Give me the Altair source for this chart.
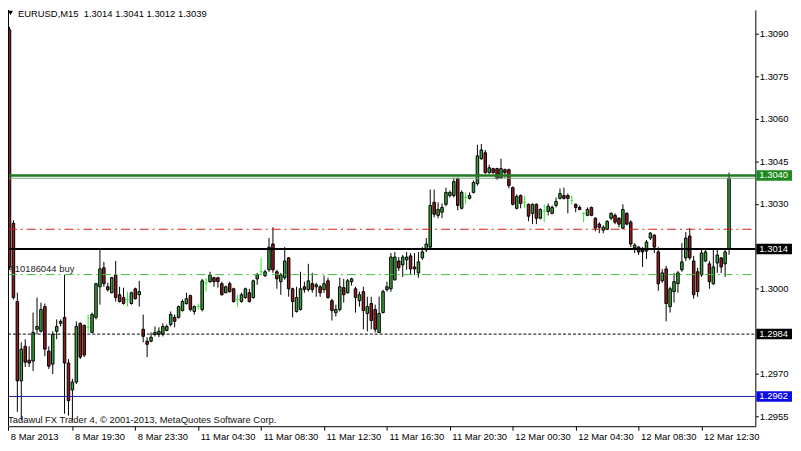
import json
import altair as alt
import pandas as pd

# ---------------- data ----------------
bar_open = [
    1.30914, 1.30231, 1.29955, 1.29675, 1.29797, 1.29748, 1.29745, 1.29857, 1.29850, 1.29937,
    1.29780, 1.29734, 1.29850, 1.29878, 1.29899, 1.29738, 1.29643, 1.29671, 1.29878, 1.29871,
    1.29864, 1.29846, 1.29899, 1.30007, 1.30074, 1.30007, 1.29986, 1.30049, 1.29979, 1.29969,
    1.29962, 1.29948, 1.30000, 1.29979, 1.29857, 1.29815, 1.29815, 1.29839, 1.29839, 1.29839,
    1.29853, 1.29874, 1.29899, 1.29899, 1.29923, 1.29948, 1.29976, 1.29920, 1.29937, 1.29927,
    1.30021, 1.30025, 1.30039, 1.30039, 1.30018, 1.29986, 1.30018, 1.30000, 1.29962, 1.29955,
    1.29969, 1.29986, 1.29969, 1.30035, 1.30060, 1.30046, 1.30067, 1.30158, 1.30060, 1.30025,
    1.30039, 1.30109, 1.30000, 1.29920, 1.29927, 1.30007, 1.29997, 1.30018, 1.30007, 1.30007,
    1.29997, 1.30028, 1.29958, 1.29916, 1.29927, 1.30004, 1.29986, 1.30025, 1.30000, 1.29958,
    1.29990, 1.29913, 1.29948, 1.29927, 1.29846, 1.29916, 1.29997, 1.30000, 1.30032, 1.30098,
    1.30084, 1.30102, 1.30116, 1.30077, 1.30056, 1.30109, 1.30137, 1.30147, 1.30305, 1.30259,
    1.30270, 1.30298, 1.30329, 1.30329, 1.30389, 1.30284, 1.30322, 1.30319, 1.30340, 1.30371,
    1.30459, 1.30480, 1.30410, 1.30424, 1.30424, 1.30392, 1.30420, 1.30420, 1.30357, 1.30284,
    1.30329, 1.30305, 1.30298, 1.30266, 1.30298, 1.30249, 1.30273, 1.30273, 1.30266, 1.30294,
    1.30319, 1.30329, 1.30329, 1.30312, 1.30298, 1.30287, 1.30266, 1.30259, 1.30287, 1.30249,
    1.30228, 1.30207, 1.30210, 1.30249, 1.30259, 1.30249, 1.30214, 1.30266, 1.30235, 1.30144,
    1.30147, 1.30137, 1.30133, 1.30179, 1.30189, 1.30130, 1.30028, 1.30070, 1.29937, 1.29990,
    1.30018, 1.30067, 1.30109, 1.30186, 1.30098, 1.30060, 1.30049, 1.30098, 1.30088, 1.30018,
    1.30091, 1.30109, 1.30088, 1.3014,
]
bar_high = [
    1.30924, 1.30242, 1.29986, 1.29811, 1.29822, 1.29797, 1.29916, 1.29969, 1.29951, 1.29948,
    1.29797, 1.29850, 1.29892, 1.29892, 1.30049, 1.29752, 1.29682, 1.29885, 1.29881, 1.29874,
    1.29909, 1.29916, 1.30021, 1.30137, 1.30095, 1.30021, 1.30042, 1.30098, 1.30007, 1.30004,
    1.29990, 1.29990, 1.30004, 1.30028, 1.29909, 1.29829, 1.29846, 1.29867, 1.29864, 1.29878,
    1.29874, 1.29920, 1.29909, 1.29941, 1.29962, 1.29986, 1.29979, 1.29941, 1.29948, 1.30035,
    1.30039, 1.30060, 1.30042, 1.30042, 1.30025, 1.30011, 1.30025, 1.30004, 1.29979, 1.29986,
    1.30004, 1.30000, 1.30032, 1.30056, 1.30109, 1.30067, 1.30179, 1.30217, 1.30067, 1.30056,
    1.30147, 1.30112, 1.30004, 1.30007, 1.30060, 1.30025, 1.30088, 1.30056, 1.30021, 1.30014,
    1.30046, 1.30039, 1.29965, 1.29944, 1.30039, 1.30035, 1.30035, 1.30039, 1.30007, 1.29990,
    1.30007, 1.29972, 1.29972, 1.29944, 1.29972, 1.29997, 1.30025, 1.30126, 1.30130, 1.30112,
    1.30119, 1.30130, 1.30126, 1.30126, 1.30130, 1.30147, 1.30179, 1.30350, 1.30350, 1.30305,
    1.30301, 1.30357, 1.30347, 1.30392, 1.30392, 1.30347, 1.30340, 1.30340, 1.30382, 1.30508,
    1.30511, 1.30490, 1.30438, 1.30427, 1.30427, 1.30459, 1.30424, 1.30424, 1.30361, 1.30333,
    1.30333, 1.30329, 1.30301, 1.30301, 1.30301, 1.30284, 1.30298, 1.30301, 1.30294, 1.30322,
    1.30354, 1.30357, 1.30336, 1.30329, 1.30301, 1.30294, 1.30270, 1.30287, 1.30290, 1.30252,
    1.30235, 1.30224, 1.30242, 1.30270, 1.30266, 1.30252, 1.30298, 1.30270, 1.30242, 1.30161,
    1.30150, 1.30147, 1.30172, 1.30200, 1.30193, 1.30147, 1.30070, 1.30081, 1.30007, 1.30056,
    1.30063, 1.30161, 1.30200, 1.30214, 1.30116, 1.30074, 1.30144, 1.30144, 1.30098, 1.30144,
    1.30137, 1.30112, 1.30144, 1.3041,
]
bar_low = [
    1.30067, 1.29962, 1.29566, 1.29535, 1.29724, 1.29724, 1.29710, 1.29839, 1.29846, 1.29762,
    1.29717, 1.29699, 1.29822, 1.29867, 1.29559, 1.29552, 1.29535, 1.29664, 1.29752, 1.29759,
    1.29846, 1.29843, 1.29892, 1.29944, 1.30007, 1.29990, 1.29984, 1.29955, 1.29951, 1.29944,
    1.29937, 1.29944, 1.29962, 1.29937, 1.29811, 1.29759, 1.29811, 1.29832, 1.29829, 1.29832,
    1.29850, 1.29867, 1.29864, 1.29895, 1.29920, 1.29944, 1.29920, 1.29909, 1.29927, 1.29920,
    1.29990, 1.30021, 1.30007, 1.30004, 1.29976, 1.29984, 1.29986, 1.29951, 1.29937, 1.29951,
    1.29965, 1.29951, 1.29965, 1.30014, 1.30049, 1.30042, 1.30060, 1.30056, 1.30000, 1.29979,
    1.30032, 1.29972, 1.29899, 1.29916, 1.29923, 1.29986, 1.29990, 1.29986, 1.29972, 1.29972,
    1.29986, 1.29965, 1.29888, 1.29902, 1.29920, 1.29951, 1.29983, 1.30011, 1.29916, 1.29937,
    1.29857, 1.29850, 1.29857, 1.29846, 1.29843, 1.29913, 1.29990, 1.29990, 1.30028, 1.30063,
    1.30042, 1.30067, 1.30049, 1.30049, 1.30039, 1.30102, 1.30130, 1.30140, 1.30252, 1.30249,
    1.30249, 1.30291, 1.30322, 1.30322, 1.30277, 1.30280, 1.30298, 1.30315, 1.30336, 1.30364,
    1.30455, 1.30406, 1.30406, 1.30406, 1.30385, 1.30389, 1.30392, 1.30354, 1.30294, 1.30280,
    1.30284, 1.30284, 1.30238, 1.30228, 1.30228, 1.30245, 1.30235, 1.30259, 1.30263, 1.30287,
    1.30315, 1.30315, 1.30266, 1.30298, 1.30270, 1.30277, 1.30235, 1.30256, 1.30256, 1.30203,
    1.30196, 1.30196, 1.30207, 1.30242, 1.30228, 1.30217, 1.30210, 1.30224, 1.30147, 1.30126,
    1.30119, 1.30077, 1.30105, 1.30172, 1.30126, 1.29993, 1.30021, 1.29885, 1.29916, 1.29951,
    1.29986, 1.30060, 1.30098, 1.30102, 1.29965, 1.29972, 1.30042, 1.30095, 1.30000, 1.30014,
    1.30056, 1.30056, 1.30042, 1.3012,
]
bar_close = [
    1.30077, 1.29969, 1.29675, 1.29787, 1.29741, 1.29738, 1.29846, 1.29867, 1.29927, 1.29787,
    1.29727, 1.29839, 1.29867, 1.29885, 1.29738, 1.29605, 1.29671, 1.29867, 1.29759, 1.29766,
    1.29864, 1.29909, 1.30018, 1.30070, 1.30018, 1.29997, 1.30039, 1.29969, 1.29955, 1.29948,
    1.29962, 1.29986, 1.29965, 1.29990, 1.29832, 1.29804, 1.29829, 1.29846, 1.29850, 1.29867,
    1.29867, 1.29909, 1.29885, 1.29937, 1.29955, 1.29965, 1.29927, 1.29937, 1.29937, 1.30028,
    1.30021, 1.30049, 1.30025, 1.30025, 1.29979, 1.30007, 1.29990, 1.29955, 1.29962, 1.29979,
    1.30000, 1.29955, 1.30028, 1.30049, 1.30060, 1.30060, 1.30147, 1.30067, 1.30035, 1.30049,
    1.30098, 1.30000, 1.29955, 1.29969, 1.30000, 1.29997, 1.30028, 1.29997, 1.30014, 1.29986,
    1.30018, 1.29969, 1.29923, 1.29927, 1.30007, 1.29979, 1.30028, 1.30035, 1.29969, 1.29979,
    1.29923, 1.29937, 1.29888, 1.29857, 1.29913, 1.29990, 1.30007, 1.30112, 1.30112, 1.30074,
    1.30112, 1.30112, 1.30070, 1.30070, 1.30095, 1.30130, 1.30158, 1.30294, 1.30263, 1.30280,
    1.30287, 1.30340, 1.30340, 1.30378, 1.30294, 1.30340, 1.30322, 1.30329, 1.30375, 1.30469,
    1.30490, 1.30410, 1.30427, 1.30410, 1.30389, 1.30424, 1.30410, 1.30364, 1.30298, 1.30326,
    1.30301, 1.30305, 1.30256, 1.30298, 1.30249, 1.30280, 1.30273, 1.30291, 1.30287, 1.30308,
    1.30336, 1.30319, 1.30319, 1.30312, 1.30287, 1.30280, 1.30266, 1.30280, 1.30259, 1.30214,
    1.30217, 1.30217, 1.30238, 1.30266, 1.30235, 1.30228, 1.30280, 1.30228, 1.30158, 1.30154,
    1.30130, 1.30130, 1.30165, 1.30196, 1.30147, 1.30018, 1.30056, 1.29948, 1.30000, 1.30025,
    1.30056, 1.30095, 1.30179, 1.30109, 1.29979, 1.29990, 1.30126, 1.30130, 1.30025, 1.30077,
    1.30119, 1.30077, 1.30130, 1.3039,
]

time_labels = ["8 Mar 2013", "8 Mar 19:30", "8 Mar 23:30", "11 Mar 04:30", "11 Mar 08:30",
               "11 Mar 12:30", "11 Mar 16:30", "11 Mar 20:30", "12 Mar 00:30", "12 Mar 04:30",
               "12 Mar 08:30", "12 Mar 12:30"]
time_label_bars = [-0.3, 16, 32, 48, 64, 80, 96, 112, 128, 144, 160, 176]
price_ticks = [1.3090, 1.3075, 1.3060, 1.3045, 1.3030, 1.3000, 1.2970, 1.2955]

tp_level = 1.3040
bid_level = 1.3039
red_level = 1.3021
black_level = 1.3014
order_level = 1.3005
dashed_level = 1.2984
blue_level = 1.2962

tag_prices = [1.3040, 1.3014, 1.2984, 1.2962]
tag_colors = ["#1f8a1f", "#000000", "#000000", "#0c0ce6"]

symbol = "EURUSD,M15"
order_label = "#10186044 buy"
copyright_text = "Tadawul FX Trader 4, \u00a9 2001-2013, MetaQuotes Software Corp."

# ---------------- chart ----------------
W, H = 754, 420
FONT = "Liberation Sans"
FS = 9.5
UP, DOWN, DOJI = "#3aa23a", "#921c1c", "#2ee82e"

n = len(bar_open)
kinds = ["up" if c > o else ("down" if c < o else "doji") for o, c in zip(bar_open, bar_close)]
df = pd.DataFrame({
    "i": list(range(n)),
    "o": bar_open, "h": bar_high, "l": bar_low, "c": bar_close,
    "kind": kinds,
})
df["body_top"] = df[["o", "c"]].max(axis=1)
df["body_bot"] = df[["o", "c"]].min(axis=1)
df["fill"] = df["kind"].map({"up": UP, "down": DOWN, "doji": DOJI})
df["wick"] = df["kind"].map({"up": "#000000", "down": "#000000", "doji": DOJI})

xs = alt.Scale(domain=[-0.38, 189.68], nice=False, zero=False)
ys = alt.Scale(domain=[1.29515, 1.30984], nice=False, zero=False)

x_axis = alt.Axis(
    values=time_label_bars,
    labelExpr=json.dumps(time_labels) + "[round(datum.value / 16)]",
    labelAlign="left", labelOffset=2, labelPadding=1, labelBaseline="top",
    tickSize=4, tickColor="black", domainColor="black", labelColor="black",
    labelFont=FONT, labelFontSize=FS, grid=False, labelFlush=False,
    labelOverlap=False, title=None,
)
y_axis = alt.Axis(
    orient="right", values=price_ticks, format=".4f", tickSize=3, labelPadding=1,
    tickColor="black", domainColor="black", labelColor="black",
    labelFont=FONT, labelFontSize=FS, grid=False, labelFlush=False,
    labelOverlap=False, title=None,
)


def X(field):
    return alt.X(field, scale=xs, axis=x_axis)


def Y(field):
    return alt.Y(field, scale=ys, axis=y_axis)


base = alt.Chart(df)

wicks = base.mark_rule(strokeWidth=1).encode(
    x=X("i:Q"), y=Y("l:Q"), y2="h:Q",
    color=alt.Color("wick:N", scale=None),
)

bodies = base.transform_filter("datum.kind != 'doji'").transform_calculate(
    xl="datum.i - 0.32", xr="datum.i + 0.32"
).mark_rect(stroke="black", strokeWidth=1).encode(
    x=X("xl:Q"), x2="xr:Q", y=Y("body_top:Q"), y2="body_bot:Q",
    fill=alt.Fill("fill:N", scale=None),
)

doji_ticks = base.transform_filter("datum.kind == 'doji'").transform_calculate(
    xl="datum.i - 0.35", xr="datum.i + 0.35"
).mark_rule(color=DOJI, strokeWidth=1).encode(
    x=X("xl:Q"), x2="xr:Q", y=Y("o:Q"),
)


def level(price, color, width=1.0, dash=None):
    kw = dict(color=color, strokeWidth=width)
    if dash:
        kw["strokeDash"] = dash
    return alt.Chart(pd.DataFrame({"p": [price]})).mark_rule(**kw).encode(
        y=Y("p:Q"), x=alt.value(0), x2=alt.value(W)
    )


lines = [
    level(red_level, "#d01c1c", 1, [9, 4, 2, 4]),
    level(order_level, "#3fbf3f", 1, [9, 4, 2, 4]),
    level(dashed_level, "#000000", 1, [3, 2]),
    level(blue_level, "#1c1ca8", 1),
    level(black_level, "#000000", 2),
    level(bid_level, "#7da67d", 1),
    level(tp_level, "#237a23", 2.5),
]

left_border = alt.Chart(pd.DataFrame({"p": [0]})).mark_rule(color="black", strokeWidth=1).encode(
    x=alt.value(0.5), y=alt.value(0), y2=alt.value(H)
)

order_text = alt.Chart(pd.DataFrame({"p": [order_level], "t": [order_label]})).mark_text(
    align="left", baseline="middle", dy=-6, font=FONT, fontSize=FS, color="#222222"
).encode(y=Y("p:Q"), x=alt.value(1.5), text="t:N")

header = "{}\u00a0 {:.4f} {:.4f} {:.4f} {:.4f}".format(
    symbol, bar_open[-1], bar_high[-1], bar_low[-1], bar_close[-1])
title_text = alt.Chart(pd.DataFrame({"t": [header]})).mark_text(
    align="left", baseline="alphabetic", font=FONT, fontSize=FS, color="black"
).encode(x=alt.value(10), y=alt.value(7), text="t:N")
title_tri = alt.Chart(pd.DataFrame({"t": [header]})).mark_point(
    shape="triangle-down", filled=True, color="black", size=26, opacity=1
).encode(x=alt.value(2.5), y=alt.value(3))

copy_text = alt.Chart(pd.DataFrame({"t": [copyright_text]})).mark_text(
    align="left", baseline="alphabetic", font=FONT, fontSize=FS, color="#111111"
).encode(x=alt.value(0), y=alt.value(417), text="t:N")

tags_df = pd.DataFrame({"p": tag_prices, "col": tag_colors,
                        "t": ["{:.4f}".format(v) for v in tag_prices]})
tag_rects = alt.Chart(tags_df).transform_calculate(
    top="datum.p + 0.000185", bot="datum.p - 0.000185"
).mark_rect().encode(
    y=Y("top:Q"), y2="bot:Q",
    x=alt.value(755), x2=alt.value(791),
    fill=alt.Fill("col:N", scale=None),
)
tag_text = alt.Chart(tags_df).mark_text(
    align="left", baseline="middle", font=FONT, fontSize=FS, color="white"
).encode(y=Y("p:Q"), x=alt.value(758), text="t:N")

chart = alt.layer(
    wicks, bodies, doji_ticks, *lines, left_border, order_text,
    title_tri, title_text, copy_text, tag_rects, tag_text,
).properties(
    width=W, height=H,
    padding={"left": 0, "top": 0, "right": 38, "bottom": 15},
    autosize=alt.AutoSizeParams(type="none"),
    background="white",
).configure_view(stroke=None)

chart.save("out.html", embed_options={"renderer": "svg", "actions": False})
